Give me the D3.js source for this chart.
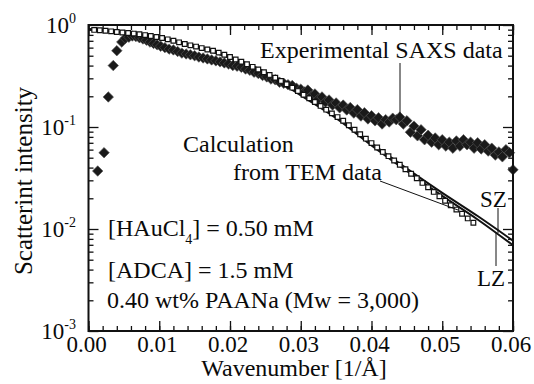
<!DOCTYPE html>
<meta charset="utf-8">
<style>
  body { margin: 0; background: #fff; }
</style>
<svg id="chart" width="534" height="384"></svg>
<script src="https://cdn.jsdelivr.net/npm/d3@7"></script>
<script>
// Experimental SAXS data (filled diamonds)
const saxsQ = [0.0013, 0.0022, 0.0028, 0.0035, 0.0040, 0.0047, 0.0052, 0.0057, 0.0062, 0.0067,
  0.0072, 0.0077, 0.0082, 0.0087, 0.0092, 0.0097, 0.0102, 0.0108, 0.0114, 0.0120,
  0.0126, 0.0132, 0.0138, 0.0144, 0.0150, 0.0156, 0.0162, 0.0168, 0.0174, 0.0180,
  0.0186, 0.0192, 0.0198, 0.0204, 0.0210, 0.0216, 0.0222, 0.0228, 0.0234, 0.0240,
  0.0246, 0.0252, 0.0258, 0.0264, 0.0270, 0.0276, 0.0282, 0.0288, 0.0294,
  0.0300, 0.0305, 0.0310, 0.0315, 0.0320, 0.0325, 0.0330, 0.0335, 0.0340, 0.0345,
  0.0350, 0.0355, 0.0360, 0.0365, 0.0370, 0.0375, 0.0380, 0.0385, 0.0390, 0.0395,
  0.0400, 0.0405, 0.0410, 0.0415, 0.0420, 0.0425, 0.0430, 0.0435, 0.0440, 0.0445,
  0.0450, 0.0455, 0.0460, 0.0465, 0.0470, 0.0475, 0.0480, 0.0485, 0.0490, 0.0495,
  0.0500, 0.0505, 0.0510, 0.0515, 0.0520, 0.0525, 0.0530, 0.0535, 0.0540, 0.0545,
  0.0550, 0.0555, 0.0560, 0.0565, 0.0570, 0.0575, 0.0580, 0.0585, 0.0590, 0.0595, 0.0600];
const saxsI = [0.037, 0.056, 0.197, 0.40, 0.56, 0.68, 0.74, 0.76, 0.78, 0.77,
  0.75, 0.73, 0.71, 0.68, 0.66, 0.64, 0.62, 0.60, 0.58, 0.57,
  0.55, 0.53, 0.52, 0.51, 0.50, 0.485, 0.475, 0.465, 0.455, 0.445,
  0.435, 0.425, 0.415, 0.40, 0.395, 0.385, 0.37, 0.36, 0.345, 0.335,
  0.32, 0.31, 0.295, 0.29, 0.275, 0.268, 0.26, 0.255, 0.24,
  0.235, 0.220, 0.230, 0.201, 0.211, 0.188, 0.197, 0.176, 0.184, 0.164,
  0.172, 0.154, 0.164, 0.147, 0.155, 0.137, 0.148, 0.128, 0.138, 0.120,
  0.129, 0.115, 0.123, 0.107, 0.118, 0.112, 0.122, 0.118, 0.125, 0.107,
  0.115, 0.089, 0.102, 0.082, 0.094, 0.075, 0.083, 0.071, 0.078, 0.067,
  0.075, 0.065, 0.071, 0.062, 0.073, 0.065, 0.075, 0.067, 0.071, 0.062,
  0.070, 0.061, 0.067, 0.058, 0.062, 0.053, 0.057, 0.051, 0.060, 0.056, 0.038];

// Calculation from TEM data (open squares)
const temQ = [0.0008, 0.0016, 0.0024, 0.0032, 0.0040, 0.0048, 0.0056, 0.0064, 0.0072, 0.0080,
  0.0088, 0.0096, 0.0104, 0.0112, 0.0120, 0.0128, 0.0136, 0.0144, 0.0152, 0.0160,
  0.0168, 0.0176, 0.0184, 0.0192, 0.0200, 0.0208, 0.0216, 0.0224, 0.0232, 0.0240,
  0.0248, 0.0256, 0.0264, 0.0272, 0.0280, 0.0288, 0.0296, 0.0304, 0.0312, 0.0320,
  0.0328, 0.0336, 0.0344, 0.0352, 0.0360, 0.0368, 0.0376, 0.0384, 0.0392, 0.0400,
  0.0408, 0.0416, 0.0424, 0.0432, 0.0440, 0.0448, 0.0456, 0.0464, 0.0472, 0.0480,
  0.0488, 0.0496, 0.0504, 0.0512, 0.0520, 0.0528, 0.0536, 0.0544];
const temI = [0.895, 0.887, 0.877, 0.867, 0.855, 0.845, 0.835, 0.824, 0.813, 0.796,
  0.780, 0.762, 0.745, 0.723, 0.700, 0.676, 0.652, 0.632, 0.614, 0.594,
  0.575, 0.560, 0.536, 0.511, 0.485, 0.460, 0.437, 0.413, 0.389, 0.366,
  0.344, 0.324, 0.304, 0.283, 0.262, 0.243, 0.225, 0.207, 0.191, 0.176,
  0.161, 0.148, 0.136, 0.125, 0.115, 0.104, 0.0940, 0.0849, 0.0769, 0.0695,
  0.0630, 0.0570, 0.0518, 0.0470, 0.0427, 0.0385, 0.0348, 0.0314, 0.0283, 0.0256,
  0.0231, 0.0209, 0.0189, 0.0171, 0.0155, 0.0141, 0.0127, 0.0115];

// SZ and LZ model curves (lines)
const modelQ = [0, 0.005, 0.010, 0.015, 0.020, 0.025, 0.030, 0.035, 0.040, 0.045, 0.050, 0.055, 0.060];
const szI = [0.912, 0.851, 0.759, 0.631, 0.488, 0.345, 0.213, 0.127, 0.0692, 0.0391, 0.0226, 0.0134, 0.00767];
const lzI = [0.902, 0.841, 0.750, 0.617, 0.473, 0.333, 0.204, 0.122, 0.0661, 0.0370, 0.0211, 0.0124, 0.00692];

const xTickVals = [0, 0.01, 0.02, 0.03, 0.04, 0.05, 0.06];
const xTickLabels = ["0.00", "0.01", "0.02", "0.03", "0.04", "0.05", "0.06"];
const yTickVals = [1e-3, 1e-2, 1e-1, 1];
const yTickExps = ["-3", "-2", "-1", "0"];

const FONT = "'Liberation Serif', 'Times New Roman', serif";
const svg = d3.select("#chart");
const pL = 88.5, pR = 513, pT = 25, pB = 331;

const x = d3.scaleLinear().domain([0, 0.06]).range([pL, pR]);
const y = d3.scaleLog().domain([1e-3, 1]).range([pB, pT]);

const xMinor = d3.range(0, 0.0601, 0.002);
const yMinor = [];
[1e-3, 1e-2, 1e-1].forEach(d => { for (let k = 2; k <= 9; k++) yMinor.push(d * k); });

// ticks (inward, on all four sides)
function ticks(axis, vals, size, tr) {
  const g = svg.append("g").attr("transform", tr)
    .call(axis.tickValues(vals).tickSize(size).tickSizeOuter(0).tickFormat(""));
  g.select(".domain").remove();
  g.selectAll(".tick line").attr("stroke", "#111").attr("stroke-width", 1.3);
}
ticks(d3.axisBottom(x), xTickVals, -10, `translate(0,${pB})`);
ticks(d3.axisBottom(x), xMinor, -5, `translate(0,${pB})`);
ticks(d3.axisTop(x), xTickVals, -10, `translate(0,${pT})`);
ticks(d3.axisTop(x), xMinor, -5, `translate(0,${pT})`);
ticks(d3.axisLeft(y), yTickVals, -10, `translate(${pL},0)`);
ticks(d3.axisLeft(y), yMinor, -5, `translate(${pL},0)`);
ticks(d3.axisRight(y), yTickVals, -10, `translate(${pR},0)`);
ticks(d3.axisRight(y), yMinor, -5, `translate(${pR},0)`);

// experimental diamonds
svg.append("g").selectAll("path")
  .data(saxsQ.map((q, i) => [q, saxsI[i]]))
  .join("path")
  .attr("transform", d => `translate(${x(d[0])},${y(d[1])}) rotate(45)`)
  .attr("d", d3.symbol(d3.symbolSquare, 55)())
  .attr("fill", "#1a1a1a")
  .attr("stroke", "#555")
  .attr("stroke-width", 0.6);

// SZ / LZ lines
const line = d3.line().x(d => x(d[0])).y(d => y(d[1])).curve(d3.curveMonotoneX);
[szI, lzI].forEach(arr => {
  svg.append("path")
    .datum(modelQ.map((q, i) => [q, arr[i]]))
    .attr("d", line)
    .attr("fill", "none")
    .attr("stroke", "#111")
    .attr("stroke-width", 2);
});

// TEM open squares
svg.append("g").selectAll("path")
  .data(temQ.map((q, i) => [q, temI[i]]))
  .join("path")
  .attr("transform", d => `translate(${x(d[0])},${y(d[1])})`)
  .attr("d", d3.symbol(d3.symbolSquare, 22)())
  .attr("fill", "#fff")
  .attr("stroke", "#111")
  .attr("stroke-width", 1.2);

// frame
svg.append("rect")
  .attr("x", pL).attr("y", pT)
  .attr("width", pR - pL).attr("height", pB - pT)
  .attr("fill", "none").attr("stroke", "#111").attr("stroke-width", 2);

// tick labels
svg.append("g").selectAll("text")
  .data(xTickVals)
  .join("text")
  .attr("x", d => x(d) - 2)
  .attr("y", 352)
  .attr("text-anchor", "middle")
  .attr("font-size", 23)
  .text((d, i) => xTickLabels[i]);

const yl = svg.append("g").selectAll("text")
  .data(yTickVals)
  .join("text")
  .attr("x", 76)
  .attr("y", d => y(d) + 8)
  .attr("text-anchor", "end")
  .attr("font-size", 23);
yl.append("tspan").text("10");
yl.append("tspan").attr("font-size", 14).attr("dy", -10).text((d, i) => yTickExps[i]);

// axis titles
svg.append("text")
  .attr("x", 294).attr("y", 376)
  .attr("text-anchor", "middle")
  .attr("font-size", 24)
  .text("Wavenumber [1/Å]");

svg.append("text")
  .attr("transform", "translate(32,181) rotate(-90)")
  .attr("text-anchor", "middle")
  .attr("font-size", 25)
  .text("Scatterint intensity");

// annotations
svg.append("text").attr("x", 260).attr("y", 58).attr("font-size", 24).text("Experimental SAXS data");
svg.append("line").attr("x1", 400).attr("y1", 63).attr("x2", 400).attr("y2", 113)
  .attr("stroke", "#111").attr("stroke-width", 1);

svg.append("text").attr("x", 183).attr("y", 152).attr("font-size", 24).text("Calculation");
svg.append("text").attr("x", 233).attr("y", 180).attr("font-size", 24).text("from TEM data");
svg.append("line").attr("x1", 380).attr("y1", 181).attr("x2", 458).attr("y2", 210)
  .attr("stroke", "#111").attr("stroke-width", 1);

svg.append("text").attr("x", 480).attr("y", 207).attr("font-size", 23).text("SZ");
svg.append("line").attr("x1", 498).attr("y1", 208).attr("x2", 498).attr("y2", 233)
  .attr("stroke", "#111").attr("stroke-width", 1);
svg.append("text").attr("x", 477).attr("y", 286).attr("font-size", 23).text("LZ");
svg.append("line").attr("x1", 496).attr("y1", 233).attr("x2", 496).attr("y2", 266)
  .attr("stroke", "#111").attr("stroke-width", 1);

const t1 = svg.append("text").attr("x", 108).attr("y", 236).attr("font-size", 24);
t1.append("tspan").text("[HAuCl");
t1.append("tspan").attr("font-size", 14).attr("dy", 8).text("4");
t1.append("tspan").attr("dy", -8).text("] = 0.50 mM");

svg.append("text").attr("x", 108).attr("y", 278).attr("font-size", 24).text("[ADCA] = 1.5 mM");
svg.append("text").attr("x", 107).attr("y", 308).attr("font-size", 24).text("0.40 wt% PAANa (Mw = 3,000)");

svg.selectAll("text").style("font-family", FONT).style("fill", "#0a0a0a");
</script>
